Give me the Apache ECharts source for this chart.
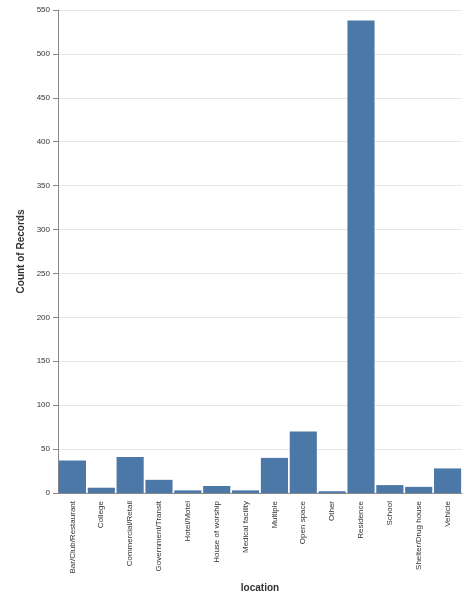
<!DOCTYPE html><html><head><meta charset="utf-8"><script src="https://cdn.jsdelivr.net/npm/echarts@6/dist/echarts.min.js"></script></head><body style="margin:0"><div id="c" style="width:464px;height:598px"></div><script>
const categories=["Bar/Club/Restaurant","College","Commercial/Retail","Government/Transit","Hotel/Motel","House of worship","Medical facility","Multiple","Open space","Other","Residence","School","Shelter/Drug house","Vehicle"];
const values=[37,6,41,15,3,8,3,40,70,2,538,9,7,28];
const c=echarts.init(document.getElementById('c'));
c.setOption({animation:false,grid:{left:58,right:2,top:10,bottom:105},
xAxis:{type:'category',data:categories,name:'location',nameLocation:'middle',nameGap:90,nameTextStyle:{fontWeight:'bold',fontSize:10,color:'#333',fontFamily:'Liberation Sans'},
axisLine:{lineStyle:{color:'#888'}},axisTick:{alignWithLabel:true,lineStyle:{color:'#888'}},axisLabel:{rotate:90,fontSize:8,color:'#333',interval:0,fontFamily:'Liberation Sans'}},
yAxis:{type:'value',min:0,max:550,interval:50,name:'Count of Records',nameLocation:'middle',nameGap:27,nameTextStyle:{fontWeight:'bold',fontSize:10,color:'#333',fontFamily:'Liberation Sans'},
axisLine:{show:true,lineStyle:{color:'#888'}},axisTick:{show:true,lineStyle:{color:'#888'}},axisLabel:{fontSize:8,color:'#333',fontFamily:'Liberation Sans'},splitLine:{lineStyle:{color:'#e6e6e6'}}},
series:[{type:'bar',data:values,barCategoryGap:'6%',itemStyle:{color:'#4c78a8'}}]});
</script></body></html>
